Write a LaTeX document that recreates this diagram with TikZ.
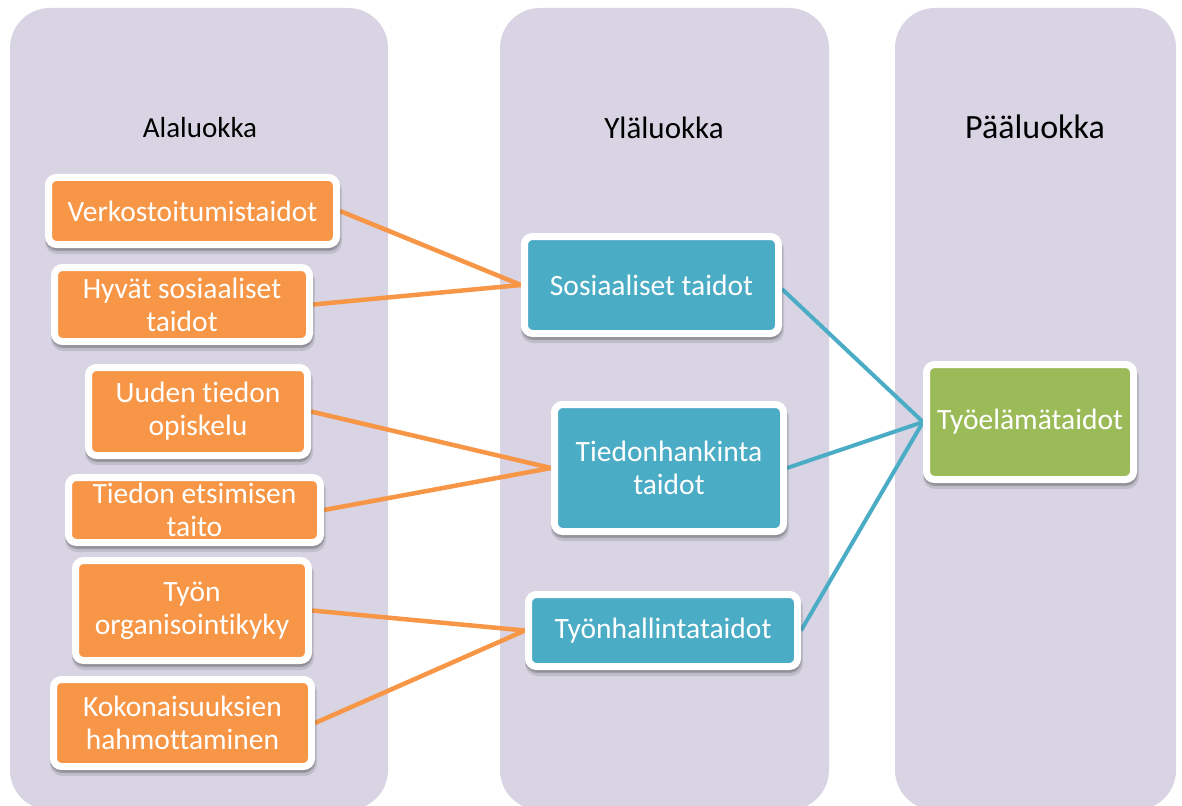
\documentclass[tikz,border=0pt]{standalone}
\usepackage{fontspec}
\setmainfont{Carlito}[Ligatures={NoCommon}]
\usetikzlibrary{shadows,backgrounds}
\definecolor{colbg}{HTML}{D8D4E3}
\definecolor{orangeacc}{HTML}{F79646}
\definecolor{blueacc}{HTML}{4BACC6}
\definecolor{greenacc}{HTML}{9BBB59}
\tikzset{
  column/.style={fill=colbg, rounded corners=40pt},
  header/.style={text=black, inner sep=0pt},
  skill/.style={rectangle, rounded corners=8pt, draw=white, line width=7pt,
    text=white, align=center, inner sep=0pt,
    font=\fontsize{29.5}{33}\selectfont,
    general shadow={shadow xshift=1pt, shadow yshift=-5pt, fill=black, draw=black, line width=9pt, opacity=0.10},
    general shadow={shadow xshift=0.5pt, shadow yshift=-3pt, fill=black, draw=black, line width=7pt, opacity=0.18}},
  subskill/.style={skill, fill=orangeacc},
  midskill/.style={skill, fill=blueacc},
  topskill/.style={skill, fill=greenacc},
  oline/.style={draw=orangeacc, line width=4.5pt},
  bline/.style={draw=blueacc, line width=4pt},
}
\begin{document}
\begin{tikzpicture}[x=1pt, y=-1pt]
\useasboundingbox (0,0) rectangle (1182,805);

% column headings
\node[header, font=\fontsize{29}{33}\selectfont] (h1) at (200,128) {Alaluokka};
\node[header, font=\fontsize{31}{35}\selectfont] (h2) at (664,128) {Yläluokka};
\node[header, font=\fontsize{34}{38}\selectfont] (h3) at (1035,127) {Pääluokka};

% lowest level
\node[subskill, minimum width=288pt, minimum height=67pt] (verk) at (192.5,211) {Verkostoitumistaidot};
\node[subskill, minimum width=255pt, minimum height=74pt] (hyv) at (182,304.5) {Hyvät sosiaaliset\\taidot};
\node[subskill, minimum width=219pt, minimum height=88pt] (uud) at (198,411.5) {Uuden tiedon\\opiskelu};
\node[subskill, minimum width=252pt, minimum height=65pt] (etsi) at (194.5,510) {Tiedon etsimisen\\taito};
\node[subskill, minimum width=233pt, minimum height=100pt] (org) at (192,610.5) {Työn\\organisointikyky};
\node[subskill, minimum width=258pt, minimum height=87pt] (kok) at (182.5,723) {Kokonaisuuksien\\hahmottaminen};

% middle level
\node[midskill, minimum width=254pt, minimum height=97pt] (sos) at (651.5,285) {Sosiaaliset taidot};
\node[midskill, minimum width=229pt, minimum height=127pt] (hank) at (669,468) {Tiedonhankinta\\taidot};
\node[midskill, minimum width=269pt, minimum height=72pt] (hall) at (663,630.5) {Työnhallintataidot};

% top level
\node[topskill, minimum width=207pt, minimum height=115pt] (tyo) at (1030,422) {Työelämätaidot};

\begin{scope}[on background layer]
  \fill[column] (10,8) rectangle (388,810);
  \fill[column] (500,8) rectangle (829,810);
  \fill[column] (895,8) rectangle (1176,810);

  \draw[oline] (verk.east) -- (sos.west);
  \draw[oline] (hyv.east) -- (sos.west);
  \draw[oline] (uud.east) -- (hank.west);
  \draw[oline] (etsi.east) -- (hank.west);
  \draw[oline] (org.east) -- (hall.west);
  \draw[oline] (kok.east) -- (hall.west);

  \draw[bline] ([yshift=-4pt]sos.east) -- (tyo.west);
  \draw[bline] (hank.east) -- (tyo.west);
  \draw[bline] (hall.east) -- (tyo.west);
\end{scope}
\end{tikzpicture}
\end{document}
